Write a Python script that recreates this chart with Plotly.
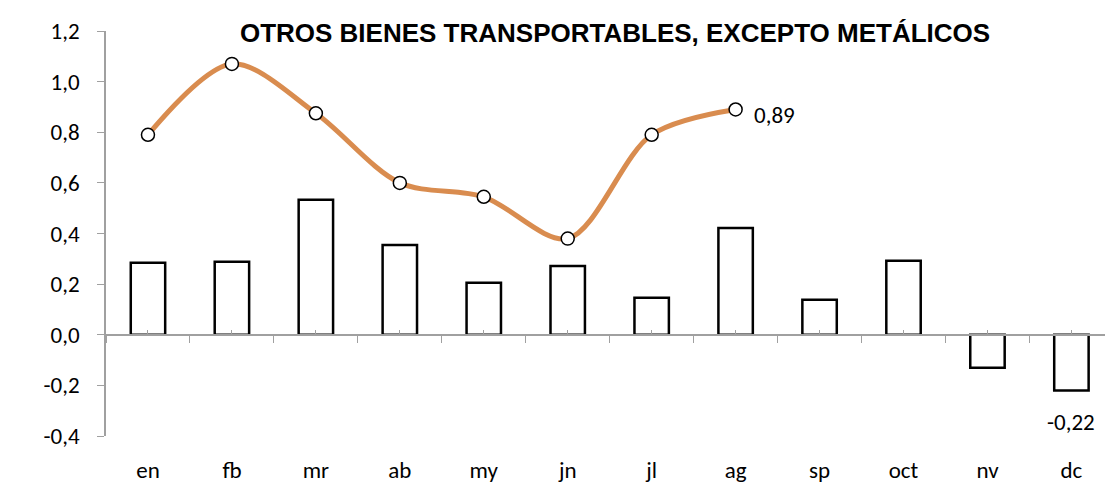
import plotly.graph_objects as go

months = ["en", "fb", "mr", "ab", "my", "jn", "jl", "ag", "sp", "oct", "nv", "dc"]
bar_values = [0.284, 0.288, 0.533, 0.355, 0.205, 0.272, 0.146, 0.422, 0.138, 0.292, -0.13, -0.22]
line_months = ["en", "fb", "mr", "ab", "my", "jn", "jl", "ag"]
line_values = [0.79, 1.07, 0.875, 0.60, 0.545, 0.38, 0.79, 0.89]
y_ticks = [-0.4, -0.2, 0.0, 0.2, 0.4, 0.6, 0.8, 1.0, 1.2]
y_tick_labels = ["-0,4", "-0,2", "0,0", "0,2", "0,4", "0,6", "0,8", "1,0", "1,2"]
title = "OTROS BIENES TRANSPORTABLES, EXCEPTO METÁLICOS"

font_main = "Carlito, Calibri, 'Open Sans', sans-serif"
fs = 23

fig = go.Figure()
fig.add_trace(go.Bar(
    x=months, y=bar_values, width=0.41,
    marker=dict(color="white", line=dict(color="black", width=2.5)),
    hoverinfo="skip", showlegend=False,
))
fig.add_trace(go.Scatter(
    x=line_months, y=line_values, mode="lines+markers",
    line=dict(color="#D98C4F", width=5, shape="spline", smoothing=0.9),
    marker=dict(size=13, color="white", line=dict(color="black", width=1.5)),
    showlegend=False, cliponaxis=False,
))
# invisible traces for the zero-line category axes
fig.add_trace(go.Scatter(x=months, y=[0] * len(months), xaxis="x2", mode="markers",
                         marker=dict(opacity=0), showlegend=False, hoverinfo="skip"))
fig.add_trace(go.Scatter(x=months, y=[0] * len(months), xaxis="x3", mode="markers",
                         marker=dict(opacity=0), showlegend=False, hoverinfo="skip"))

# data labels
fig.add_annotation(x=line_months[-1], y=line_values[-1], text=f"{line_values[-1]:.2f}".replace(".", ","),
                   showarrow=False, xanchor="left", yanchor="middle", xshift=16, yshift=-6,
                   font=dict(size=fs, color="black", family=font_main))
fig.add_annotation(x=months[-1], y=bar_values[-1], text=f"{bar_values[-1]:.2f}".replace(".", ","),
                   showarrow=False, xanchor="center", yanchor="top", yshift=-16,
                   font=dict(size=fs, color="black", family=font_main))

xr = [-0.5, 11.4]
zero_axis = dict(type="category", categoryorder="array", categoryarray=months, range=xr,
                 overlaying="x", anchor="free", position=0.25, side="bottom",
                 showticklabels=False, showgrid=False, zeroline=False)
fig.update_layout(
    width=1105, height=484,
    margin=dict(l=106, r=0, t=31, b=48, autoexpand=False),
    paper_bgcolor="white", plot_bgcolor="white",
    separators=",.",
    title=dict(text=title, x=0.5566, xanchor="center", y=0.933, yanchor="middle",
               font=dict(family="'Liberation Sans', Arial, sans-serif", size=26, color="black", weight="bold")),
    xaxis=dict(type="category", categoryorder="array", categoryarray=months, range=xr,
               showline=False, ticks="", showgrid=False, zeroline=False,
               tickfont=dict(size=fs, color="black", family=font_main), ticklabelstandoff=18),
    xaxis2=dict(zero_axis, showline=True, linecolor="#A0A0A0", linewidth=1.5,
                ticks="outside", tickson="boundaries", ticklen=7, tickcolor="#A0A0A0"),
    xaxis3=dict(zero_axis, showline=False, ticks="inside", tickson="labels",
                ticklen=5, tickcolor="#A0A0A0", tickwidth=1),
    yaxis=dict(range=[-0.4, 1.2], tickvals=y_ticks, ticktext=y_tick_labels,
               showline=True, linecolor="#A0A0A0", linewidth=1.5,
               ticks="outside", ticklen=7, tickcolor="#A0A0A0",
               showgrid=False, zeroline=False, ticklabelstandoff=13,
               tickfont=dict(size=fs, color="black", family=font_main)),
)
fig.write_html("out.html", config={"displayModeBar": False},
               post_script="document.body.style.margin='0';")
